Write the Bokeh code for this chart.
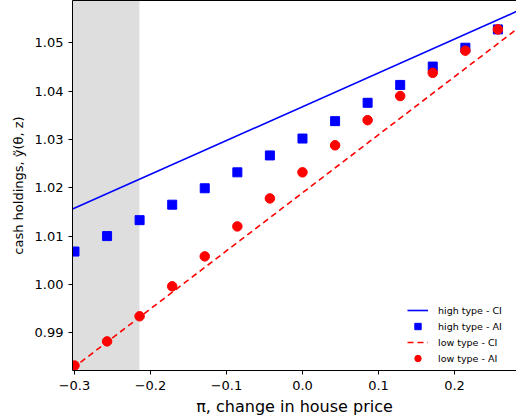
from bokeh.plotting import figure
from bokeh.models import (Range1d, BoxAnnotation, LinearAxis, FixedTicker,
                          Legend, LegendItem)
from bokeh.embed import file_html
from bokeh.resources import INLINE

# ---- data ----
pi_grid = [-0.3, -0.2571, -0.2143, -0.1714, -0.1286, -0.0857, -0.0429,
           0.0, 0.0429, 0.0857, 0.1286, 0.1714, 0.2143, 0.2571]
high_ai = [1.0068, 1.0100, 1.0133, 1.0165, 1.0199, 1.0232, 1.0267,
           1.0302, 1.0338, 1.0376, 1.0413, 1.0451, 1.0490, 1.0528]
low_ai = [0.9832, 0.9882, 0.9934, 0.9996, 1.0058, 1.0120, 1.0178,
          1.0232, 1.0288, 1.0340, 1.0390, 1.0438, 1.0484, 1.0528]
ci_x = [-0.3026, 0.2816]
high_ci = [1.0156, 1.0565]
low_ci = [0.9826, 1.0528]
shade_end = -0.2145
x_ticks = [-0.3, -0.2, -0.1, 0.0, 0.1, 0.2]
y_ticks = [0.99, 1.00, 1.01, 1.02, 1.03, 1.04, 1.05]
x_range = (-0.3026, 0.2816)
y_range = (0.98217, 1.05878)

FONT = "DejaVu Sans"

p = figure(width=516, height=418, output_backend="svg", toolbar_location=None,
           x_range=Range1d(*x_range), y_range=Range1d(*y_range),
           min_border_left=72, min_border_right=0, min_border_top=0,
           min_border_bottom=48)
p.outline_line_color = None
p.xgrid.visible = False
p.ygrid.visible = False
p.background_fill_color = "white"
p.border_fill_color = "white"

for ax in (p.xaxis[0], p.yaxis[0]):
    ax.axis_line_color = "black"
    ax.axis_line_width = 1
    ax.major_tick_out = 4
    ax.major_tick_in = 0
    ax.minor_tick_line_color = None
    ax.major_tick_line_color = "black"
    ax.major_label_text_font = FONT
    ax.major_label_text_font_size = "13px"
    ax.major_label_text_color = "black"
    ax.axis_label_text_font = FONT
    ax.axis_label_text_font_style = "normal"
    ax.axis_label_text_color = "black"
    ax.major_label_standoff = 5

p.xaxis[0].ticker = FixedTicker(ticks=x_ticks)
p.yaxis[0].ticker = FixedTicker(ticks=y_ticks)
p.xaxis[0].axis_label = "π, change in house price"
p.xaxis[0].axis_label_text_font_size = "16px"
p.xaxis[0].axis_label_standoff = 4
p.xaxis[0].major_label_standoff = 6
p.yaxis[0].axis_label = "cash holdings, ỹ(θ, z)"
p.yaxis[0].axis_label_text_font_size = "13px"
p.yaxis[0].axis_label_standoff = 6
p.xaxis[0].major_label_overrides = {t: ("−" + f"{abs(t):.1f}" if t < 0 else f"{t:.1f}") for t in x_ticks}
p.yaxis[0].major_label_overrides = {t: f"{t:.2f}" for t in y_ticks}

top = LinearAxis(ticker=FixedTicker(ticks=[]), major_label_text_font_size="0px",
                 major_tick_out=0, major_tick_in=0, minor_tick_line_color=None,
                 axis_line_color="black", axis_line_width=1)
p.add_layout(top, "above")

p.add_layout(BoxAnnotation(right=shade_end, fill_color="#dedede", fill_alpha=1.0,
                           line_color=None, level="underlay"))

r1 = p.line(ci_x, high_ci, line_color="#0000ff", line_width=1.6)
r2 = p.scatter(pi_grid, high_ai, marker="square", size=9, fill_color="#0000ff",
               line_color="#0000ff")
r3 = p.line(ci_x, low_ci, line_color="#ff0000", line_width=1.6, line_dash="6 4")
r4 = p.scatter(pi_grid, low_ai, marker="circle", size=9.5, fill_color="#ff0000",
               line_color="#ff0000")

legend = Legend(items=[
    LegendItem(label="high type - CI", renderers=[r1]),
    LegendItem(label="high type - AI", renderers=[r2]),
    LegendItem(label="low type - CI", renderers=[r3]),
    LegendItem(label="low type - AI", renderers=[r4]),
], location=(335, 4))
legend.border_line_color = None
legend.background_fill_alpha = 0.0
legend.label_text_font = FONT
legend.label_text_font_size = "9.5px"
legend.label_text_color = "black"
legend.glyph_width = 21
legend.glyph_height = 16
legend.label_height = 16
legend.spacing = 0
legend.padding = 4
legend.margin = 0
legend.label_standoff = 10
p.add_layout(legend)

open("out.html", "w").write(file_html(p, INLINE))
